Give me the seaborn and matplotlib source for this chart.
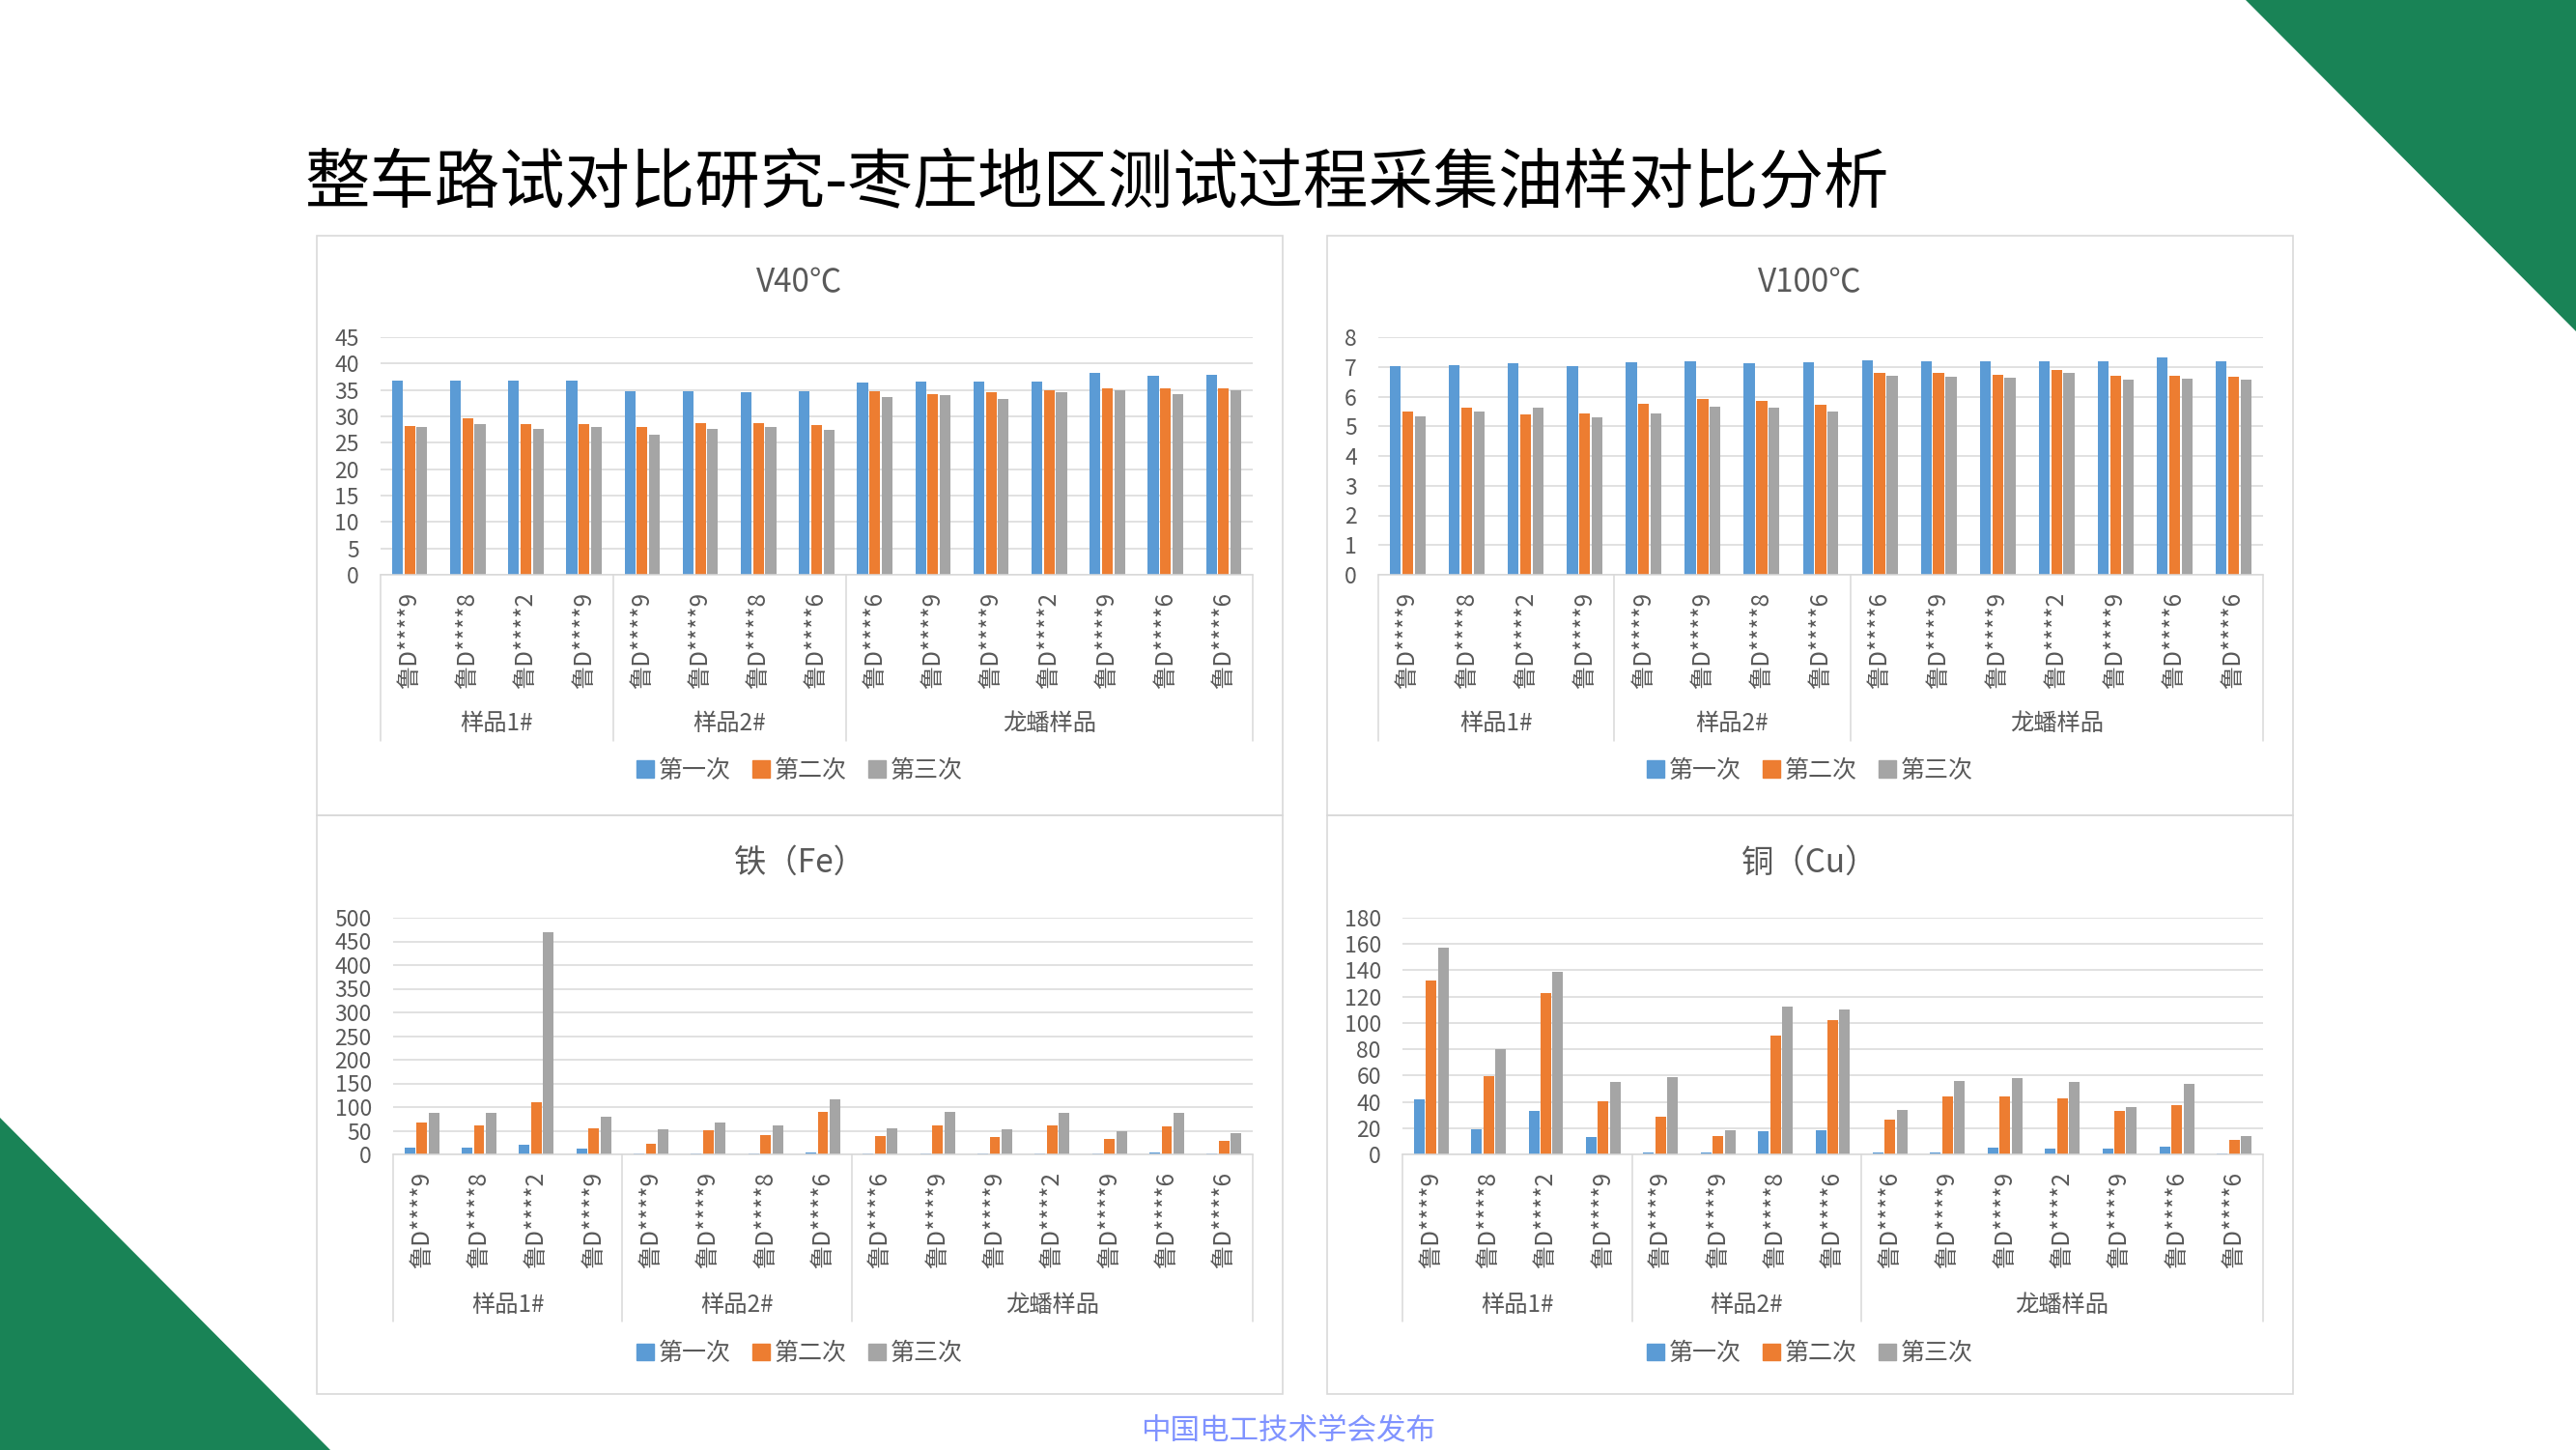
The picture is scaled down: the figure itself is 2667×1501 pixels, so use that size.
import matplotlib.pyplot as plt
import matplotlib.patches as mpatches
import matplotlib.transforms as mtransforms
import pandas as pd
import seaborn as sns

# x tick labels (vehicle plates) and the sample groups they belong to
plates = ["鲁D****9", "鲁D****8", "鲁D****2", "鲁D****9",
          "鲁D****9", "鲁D****9", "鲁D****8", "鲁D****6",
          "鲁D****6", "鲁D****9", "鲁D****9", "鲁D****2", "鲁D****9", "鲁D****6", "鲁D****6"]
groups = ["样品1#", "样品2#", "龙蟠样品"]
group_sizes = [4, 4, 7]
runs = ["第一次", "第二次", "第三次"]

# V40℃
v40_run1 = [36.8, 36.8, 36.8, 36.8, 34.8, 34.8, 34.6, 34.8, 36.4, 36.6, 36.6, 36.6, 38.2, 37.7, 37.9]
v40_run2 = [28.2, 29.7, 28.6, 28.6, 27.9, 28.8, 28.8, 28.4, 34.8, 34.2, 34.6, 35.0, 35.3, 35.3, 35.3]
v40_run3 = [27.9, 28.6, 27.7, 27.9, 26.6, 27.7, 28.0, 27.5, 33.7, 34.1, 33.3, 34.6, 35.0, 34.2, 35.0]

# V100℃
v100_run1 = [7.03, 7.06, 7.12, 7.03, 7.15, 7.19, 7.12, 7.15, 7.22, 7.19, 7.19, 7.19, 7.19, 7.32, 7.19]
v100_run2 = [5.50, 5.62, 5.40, 5.44, 5.76, 5.92, 5.86, 5.73, 6.79, 6.79, 6.74, 6.90, 6.70, 6.70, 6.67]
v100_run3 = [5.33, 5.50, 5.62, 5.30, 5.44, 5.66, 5.62, 5.50, 6.70, 6.67, 6.63, 6.79, 6.56, 6.60, 6.56]

# 铁（Fe）
fe_run1 = [14.8, 14.8, 20.3, 12.5, 2.3, 2.3, 2.3, 3.9, 2.3, 2.3, 2.3, 2.3, 2.3, 3.9, 2.3]
fe_run2 = [67.9, 61.6, 110, 55.4, 22.6, 51.5, 41.3, 89.7, 39, 61.6, 36.7, 61.6, 32.8, 59.3, 28.9]
fe_run3 = [88.1, 88.1, 469, 79.6, 53, 67.9, 61.6, 116, 55.4, 89.7, 53, 88.1, 49.1, 88.1, 45.2]

# 铜（Cu）
cu_run1 = [41.8, 19.4, 33.1, 13.2, 1.4, 1.4, 17.7, 18.5, 1.4, 1.4, 5.3, 4.5, 4.5, 5.9, 0.8]
cu_run2 = [132.3, 59.5, 122.7, 40.4, 28.6, 14.0, 90.4, 102.2, 26.4, 44.1, 44.1, 42.7, 33.1, 37.6, 11.2]
cu_run3 = [157.3, 80.0, 138.7, 55.0, 58.7, 18.5, 112.3, 110.1, 33.7, 55.9, 58.1, 55.0, 35.9, 53.6, 14.0]

W, H = 2667, 1501
colors = ["#5B9BD5", "#ED7D31", "#A5A5A5"]
text_grey = "#595959"
line_grey = "#D9D9D9"

sns.set_style("white")
plt.rcParams["font.family"] = ["Noto Sans CJK SC", "DejaVu Sans"]


def fx(x):
    return x / W


def fy(y):
    return 1 - y / H


# title, series, y max, y step, panel box (px), plot area (px)
charts = [
    ("V40℃", [v40_run1, v40_run2, v40_run3], 45, 5, (328, 244, 1328, 844), (394, 349, 1297, 595)),
    ("V100℃", [v100_run1, v100_run2, v100_run3], 8, 1, (1374, 244, 2374, 844), (1427, 349, 2343, 595)),
    ("铁（Fe）", [fe_run1, fe_run2, fe_run3], 500, 50, (328, 844, 1328, 1443), (407, 950, 1297, 1195)),
    ("铜（Cu）", [cu_run1, cu_run2, cu_run3], 180, 20, (1374, 844, 2374, 1443), (1452, 950, 2343, 1195)),
]

fig = plt.figure(figsize=(W / 100, H / 100), dpi=100)
fig.patch.set_facecolor("white")

# green corner triangles
green = "#198356"
fig.add_artist(mpatches.Polygon([(fx(2325), fy(0)), (fx(2667), fy(0)), (fx(2667), fy(343))],
                                closed=True, transform=fig.transFigure, color=green, lw=0))
fig.add_artist(mpatches.Polygon([(fx(0), fy(1157)), (fx(0), fy(1501)), (fx(342), fy(1501))],
                                closed=True, transform=fig.transFigure, color=green, lw=0))

fig.text(fx(315), fy(191), "整车路试对比研究-枣庄地区测试过程采集油样对比分析",
         fontsize=48.5, color="black", ha="left", va="center")
fig.text(0.5, fy(1481), "中国电工技术学会发布", fontsize=22, color="#8093FF",
         ha="center", va="center")

order = [str(i) for i in range(len(plates))]

for title, series, ymax, step, box, area in charts:
    bx0, by0, bx1, by1 = box
    fig.add_artist(mpatches.Rectangle((fx(bx0), fy(by1)), fx(bx1 - bx0), (by1 - by0) / H,
                                      transform=fig.transFigure, fill=False,
                                      edgecolor=line_grey, lw=1.2))
    ax0, ay0, ax1, ay1 = area
    ax = fig.add_axes([fx(ax0), fy(ay1), fx(ax1 - ax0), (ay1 - ay0) / H])

    df = pd.DataFrame({
        "pos": order * 3,
        "value": series[0] + series[1] + series[2],
        "run": [r for r in runs for _ in plates],
    })
    sns.barplot(data=df, x="pos", y="value", hue="run", order=order, hue_order=runs,
                palette=colors, width=0.63, gap=0.12, saturation=1, errorbar=None,
                legend=False, linewidth=0, ax=ax)

    ax.set_xlim(-0.5, len(plates) - 0.5)
    ax.set_ylim(0, ymax)
    ax.set_yticks(range(0, ymax + 1, step))
    ax.set_xticks(range(len(plates)))
    ax.set_xticklabels(plates, rotation=90)
    ax.set_xlabel("")
    ax.set_ylabel("")
    ax.set_axisbelow(True)
    ax.yaxis.grid(True, color=line_grey, lw=1.1)
    ax.xaxis.grid(False)
    for side in ["top", "right", "left"]:
        ax.spines[side].set_visible(False)
    ax.spines["bottom"].set_color(line_grey)
    ax.spines["bottom"].set_linewidth(1.1)
    ax.tick_params(axis="y", length=0, pad=16, labelsize=16.5, labelcolor=text_grey)
    ax.tick_params(axis="x", length=0, pad=13, labelsize=17.5, labelcolor=text_grey)

    # multi-level category axis: separators and group names
    off = 0 if by0 < 500 else 1
    sep_bottom = (767, 1368)[off]
    label_y = (749, 1351)[off]
    legend_y = (798, 1401)[off]
    title_y = (293, 893)[off]
    trans = mtransforms.blended_transform_factory(ax.transData, fig.transFigure)
    edges = [-0.5]
    for n in group_sizes:
        edges.append(edges[-1] + n)
    for e in edges:
        ax.plot([e, e], [fy(ay1), fy(sep_bottom)], transform=trans, clip_on=False,
                color=line_grey, lw=1.1)
    for name, a, b in zip(groups, edges[:-1], edges[1:]):
        ax.text((a + b) / 2, fy(label_y), name, transform=trans, ha="center", va="center",
                fontsize=17.5, color=text_grey)

    cx = (bx0 + bx1) / 2
    fig.text(fx(cx), fy(title_y), title, fontsize=24, color=text_grey, ha="center", va="center")
    handles = [mpatches.Patch(color=c) for c in colors]
    fig.legend(handles, runs, loc="center", bbox_to_anchor=(fx(cx), fy(legend_y)), ncol=3,
               frameon=False, fontsize=18, labelcolor=text_grey, handlelength=0.7,
               handleheight=0.7, handletextpad=0.2, columnspacing=0.9)

fig.savefig("out.png", dpi=100)
